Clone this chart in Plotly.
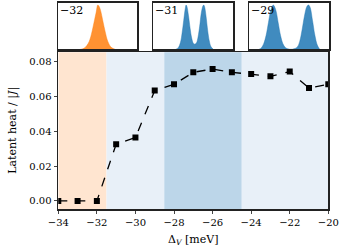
import plotly.graph_objects as go

# ---- main series ----
delta_v = [-34, -33, -32, -31, -30, -29, -28, -27, -26, -25, -24, -23, -22, -21, -20]
latent_heat = [0.0, 0.0, 0.0, 0.0326, 0.0364, 0.0634, 0.0670, 0.0739, 0.0758,
               0.0739, 0.0729, 0.0716, 0.0743, 0.0649, 0.0670]

x_ticks = [-34, -32, -30, -28, -26, -24, -22, -20]
x_tick_labels = ["−34", "−32", "−30", "−28", "−26", "−24", "−22", "−20"]
y_ticks = [0.0, 0.02, 0.04, 0.06, 0.08]
y_tick_labels = ["0.00", "0.02", "0.04", "0.06", "0.08"]
x_title = "Δ<sub><i>V</i></sub> [meV]"
y_title = "Latent heat / |<i>J</i>|"

# shaded regions (x start, x end)
region_orange = [-34, -31.5]
region_light = [-31.5, -20]
region_dark = [-28.5, -24.5]

# ---- inset distributions (normalised coordinates) ----
inset1_label = "−32"
inset1_x = [0.28, 0.31, 0.34, 0.38, 0.40, 0.42, 0.44, 0.46, 0.48, 0.50, 0.52, 0.54,
            0.56, 0.58, 0.60, 0.62, 0.66, 0.69, 0.72]
inset1_y = [0.0, 0.01, 0.04, 0.13, 0.21, 0.33, 0.48, 0.64, 0.80, 0.95, 0.91, 0.80,
            0.64, 0.48, 0.33, 0.20, 0.06, 0.02, 0.0]

inset2_label = "−31"
inset2_x = [0.28, 0.31, 0.34, 0.36, 0.38, 0.40, 0.41, 0.42, 0.44, 0.46, 0.48, 0.50,
            0.52, 0.54, 0.56, 0.58, 0.60, 0.62, 0.63, 0.64, 0.66, 0.68, 0.70, 0.72, 0.75]
inset2_y = [0.0, 0.03, 0.15, 0.35, 0.62, 0.88, 0.95, 0.92, 0.72, 0.45, 0.24, 0.13,
            0.11, 0.14, 0.27, 0.50, 0.78, 0.93, 0.95, 0.92, 0.70, 0.40, 0.18, 0.06, 0.0]

inset3_label = "−29"
inset3_x = [0.12, 0.15, 0.18, 0.21, 0.24, 0.27, 0.30, 0.33, 0.36, 0.39, 0.42, 0.45,
            0.48, 0.52, 0.56, 0.60, 0.63, 0.66, 0.69, 0.72, 0.74, 0.76, 0.79, 0.82,
            0.85, 0.88]
inset3_y = [0.0, 0.03, 0.12, 0.30, 0.58, 0.85, 0.95, 0.85, 0.58, 0.30, 0.12, 0.04,
            0.01, 0.0, 0.01, 0.05, 0.17, 0.42, 0.72, 0.92, 0.95, 0.90, 0.62, 0.30,
            0.09, 0.0]

FONT = "DejaVu Serif"
W, H = 342, 250


def px(x):
    return x / W


def py(y):
    return 1 - y / H


fig = go.Figure()

fig.add_trace(go.Scatter(
    x=delta_v, y=latent_heat, mode="lines+markers",
    line=dict(color="black", width=1.3, dash="dash"),
    marker=dict(symbol="square", size=6, color="black"),
    xaxis="x", yaxis="y", showlegend=False, hoverinfo="skip",
))

insets = [
    (inset1_x, inset1_y, "rgba(255,127,14,0.85)", "x2", "y2", inset1_label),
    (inset2_x, inset2_y, "rgba(31,119,180,0.85)", "x3", "y3", inset2_label),
    (inset3_x, inset3_y, "rgba(31,119,180,0.85)", "x4", "y4", inset3_label),
]
for xs, ys, col, xa, ya, lab in insets:
    fig.add_trace(go.Scatter(
        x=xs, y=ys, mode="lines", fill="tozeroy", fillcolor=col,
        line=dict(color=col, width=0.5, shape="spline"),
        xaxis=xa, yaxis=ya, showlegend=False, hoverinfo="skip",
    ))
    fig.add_annotation(text=lab, xref=xa + " domain", yref=ya + " domain",
                       x=0.0, y=1.02, xanchor="left", yanchor="top",
                       showarrow=False, font=dict(family=FONT, size=11, color="black"))

shapes = []
for (x0, x1), col in [(region_orange, "#ffe5d0"), (region_light, "#e8f0f8"),
                      (region_dark, "#bcd6e9")]:
    shapes.append(dict(type="rect", xref="x", yref="y domain", x0=x0, x1=x1,
                       y0=0, y1=1, fillcolor=col, line=dict(width=0), layer="below"))

main_x_dom = [px(58.3), px(328.3)]
main_y_dom = [py(209.3), py(52.3)]

axis_common = dict(showline=True, linecolor="#222", linewidth=1.2, mirror=True,
                   showgrid=False, zeroline=False, automargin=False,
                   tickfont=dict(family=FONT, size=10, color="black"))

inset_axis = dict(showline=True, linecolor="#222", linewidth=1.2, mirror=True,
                  showgrid=False, zeroline=False, showticklabels=False, ticks="",
                  range=[0, 1], fixedrange=True, automargin=False)

inset_y_dom = [py(49.3), py(2.7)]

# axis titles as annotations for exact placement
fig.add_annotation(text=x_title, xref="paper", yref="paper",
                   x=(main_x_dom[0] + main_x_dom[1]) / 2, y=py(240),
                   xanchor="center", yanchor="middle", showarrow=False,
                   font=dict(family=FONT, size=11, color="black"))
fig.add_annotation(text=y_title, xref="paper", yref="paper",
                   x=px(13), y=(main_y_dom[0] + main_y_dom[1]) / 2, textangle=-90,
                   xanchor="center", yanchor="middle", showarrow=False,
                   font=dict(family=FONT, size=11, color="black"))

fig.update_layout(
    width=W, height=H,
    margin=dict(l=0, r=0, t=0, b=0, autoexpand=False),
    paper_bgcolor="white", plot_bgcolor="white",
    hovermode=False,
    shapes=shapes,
    xaxis=dict(domain=main_x_dom, range=[-34, -20], tickvals=x_ticks,
               ticktext=x_tick_labels, ticks="outside", ticklen=3.5, tickwidth=1,
               anchor="y", **axis_common),
    yaxis=dict(domain=main_y_dom, range=[-0.0048, 0.0854], tickvals=y_ticks,
               ticktext=y_tick_labels, ticks="outside", ticklen=3.5, tickwidth=1,
               anchor="x", **axis_common),
    xaxis2=dict(domain=[px(58.3), px(137.3)], anchor="y2", **inset_axis),
    yaxis2=dict(domain=inset_y_dom, anchor="x2", **inset_axis),
    xaxis3=dict(domain=[px(153.3), px(233.3)], anchor="y3", **inset_axis),
    yaxis3=dict(domain=inset_y_dom, anchor="x3", **inset_axis),
    xaxis4=dict(domain=[px(249.3), px(329.3)], anchor="y4", **inset_axis),
    yaxis4=dict(domain=inset_y_dom, anchor="x4", **inset_axis),
)

fig.write_html(
    "out.html",
    config={"displayModeBar": False, "staticPlot": True},
    post_script="document.body.style.margin='0px';document.body.style.overflow='hidden';",
)
